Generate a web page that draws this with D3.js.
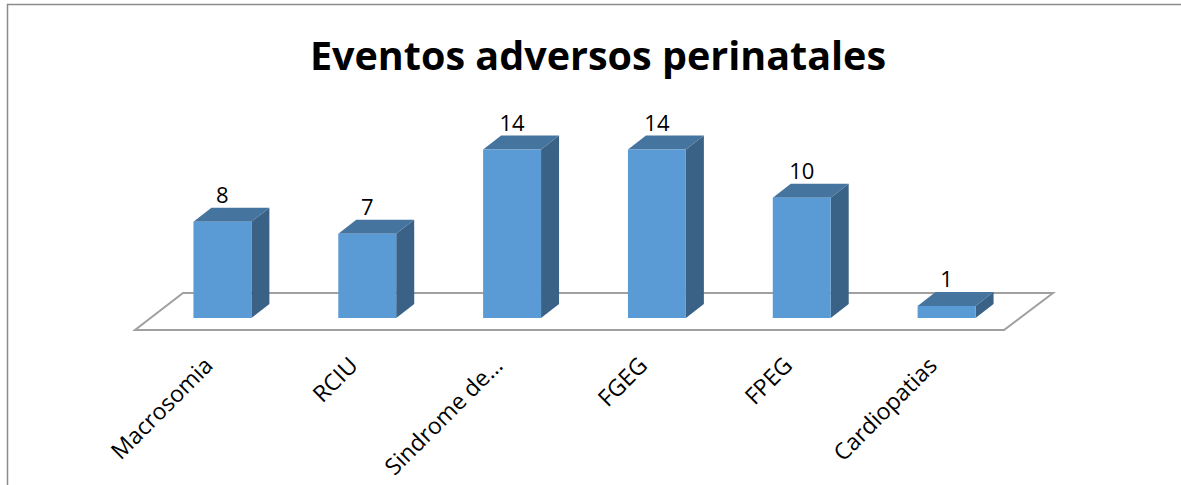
<!DOCTYPE html>
<html>
<head>
<meta charset="utf-8">
<script src="https://cdnjs.cloudflare.com/ajax/libs/d3/7.8.5/d3.min.js"></script>
<style>
  body { margin: 0; background: #fff; }
  svg { display: block; }
  text { font-family: "Open Sans", "Noto Sans", sans-serif; fill: #000; }
</style>
</head>
<body>
<div id="chart"></div>
<script>
var categories = ["Macrosomia", "RCIU", "Sindrome de\u2026", "FGEG", "FPEG", "Cardiopatias"];
var values = [8, 7, 14, 14, 10, 1];
var titleText = "Eventos adversos perinatales";

var W = 1181, H = 485;

// floor (front edge) and 3d offsets
var floorLeft = 135, floorRight = 1004, floorY = 330;
var floorDx = 49, floorDy = -37;    // full depth of the floor
var shiftDx = 15, shiftDy = -12;    // bar front plane behind floor front
var depthDx = 18, depthDy = -14;    // bar depth

var svg = d3.select("#chart").append("svg")
  .attr("width", W)
  .attr("height", H);

// outer border
svg.append("rect")
  .attr("x", 7.5).attr("y", 4.5)
  .attr("width", W + 20).attr("height", H + 20)
  .attr("fill", "none")
  .attr("stroke", "#8c8c8c")
  .attr("stroke-width", 1.5);

svg.append("text")
  .attr("x", 598)
  .attr("y", 70)
  .attr("text-anchor", "middle")
  .style("font-weight", "bold")
  .style("font-size", "39.5px")
  .text(titleText);

var x = d3.scaleBand()
  .domain(categories)
  .range([floorLeft, floorRight])
  .paddingInner(0.6)
  .paddingOuter(0.3);

var y = d3.scaleLinear()
  .domain([0, 14])
  .range([floorY + shiftDy, floorY + shiftDy - 168.5]);

// floor
var floorPts = [
  [floorLeft, floorY],
  [floorRight, floorY],
  [floorRight + floorDx, floorY + floorDy],
  [floorLeft + floorDx - 1, floorY + floorDy]
];
svg.append("path")
  .attr("d", "M" + floorPts.join("L") + "Z")
  .attr("fill", "none")
  .attr("stroke", "#a0a0a0")
  .attr("stroke-width", 2);

var bw = x.bandwidth();

var bars = svg.selectAll(".bar")
  .data(categories.map(function (c, i) { return { cat: c, v: values[i] }; }))
  .enter().append("g")
  .attr("class", "bar");

// side face
bars.append("path")
  .attr("d", function (d) {
    var x1 = x(d.cat) + shiftDx + bw, y0 = y(0), y1 = y(d.v);
    return "M" + x1 + "," + y0 +
      "L" + (x1 + depthDx) + "," + (y0 + depthDy) +
      "L" + (x1 + depthDx) + "," + (y1 + depthDy) +
      "L" + x1 + "," + y1 + "Z";
  })
  .attr("fill", "#3a6287");

// top face
bars.append("path")
  .attr("d", function (d) {
    var x0 = x(d.cat) + shiftDx, y1 = y(d.v);
    return "M" + x0 + "," + y1 +
      "L" + (x0 + depthDx) + "," + (y1 + depthDy) +
      "L" + (x0 + bw + depthDx) + "," + (y1 + depthDy) +
      "L" + (x0 + bw) + "," + y1 + "Z";
  })
  .attr("fill", "#45749f");

// front face
bars.append("rect")
  .attr("x", function (d) { return x(d.cat) + shiftDx; })
  .attr("y", function (d) { return y(d.v); })
  .attr("width", bw)
  .attr("height", function (d) { return y(0) - y(d.v); })
  .attr("fill", "#5b9bd5");

// value labels
bars.append("text")
  .attr("x", function (d) { return x(d.cat) + shiftDx + bw / 2; })
  .attr("y", function (d) { return y(d.v) + depthDy - 5; })
  .attr("text-anchor", "middle")
  .style("font-size", "22px")
  .text(function (d) { return d.v; });

// category labels
svg.selectAll(".cat")
  .data(categories)
  .enter().append("text")
  .attr("class", "cat")
  .attr("text-anchor", "end")
  .style("font-size", "23px")
  .attr("transform", function (d) {
    return "translate(" + (x(d) + shiftDx + bw / 2 - 8) + "," + 367 + ") rotate(-45)";
  })
  .text(function (d) { return d; });
</script>
</body>
</html>
